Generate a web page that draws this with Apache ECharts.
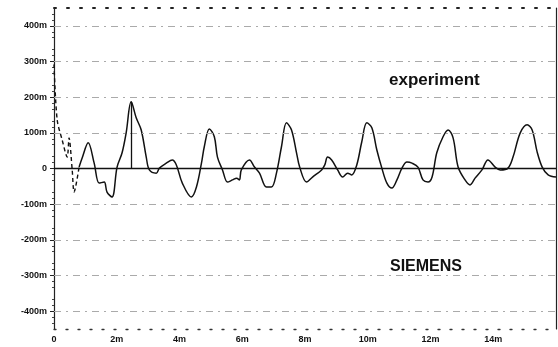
<!DOCTYPE html>
<html>
<head>
<meta charset="utf-8">
<script src="https://cdn.jsdelivr.net/npm/echarts@6/dist/echarts.min.js"></script>
<style>
  html, body { margin: 0; padding: 0; background: #fff; }
  #chart { width: 558px; height: 347px; }
</style>
</head>
<body>
<div id="chart"></div>
<script>
// time in ms, voltage in mV (labels use "m")
const startTimes = [0, 0.1, 0.26, 0.42, 0.48, 0.58, 0.64, 0.8];
const startValues = [292, 137, 80, 32, 86, -4, -66, 4];

const times = [
  0.8, 0.9, 1.09, 1.28, 1.44, 1.6, 1.69, 1.85, 2.01, 2.17, 2.3, 2.46, 2.62, 2.78, 2.94,
  3.04, 3.26, 3.36, 3.58, 3.77, 3.9, 4.09, 4.38, 4.54, 4.7, 4.79, 4.95, 5.11, 5.21,
  5.37, 5.53, 5.69, 5.82, 5.91, 5.97, 6.23, 6.39, 6.55, 6.77, 6.93, 7.09, 7.25, 7.41,
  7.57, 7.73, 7.83, 8.05, 8.24, 8.53, 8.63, 8.72, 8.85, 9.04, 9.2, 9.36, 9.49, 9.65,
  9.81, 9.97, 10.13, 10.29, 10.45, 10.61, 10.77, 10.93, 11.09, 11.25, 11.41, 11.6,
  11.76, 11.92, 12.05, 12.2, 12.4, 12.56, 12.72, 12.88, 13.1, 13.26, 13.42, 13.64,
  13.83, 14.06, 14.22, 14.47, 14.63, 14.86, 15.08, 15.24, 15.4, 15.56, 15.75, 16.0
];
const values = [
  4, 30, 72, 15, -41, -38, -66, -80, 4, 44, 100, 187, 142, 108, 32,
  -4, -13, 1, 15, 24, 10, -41, -80, -52, 15, 61, 111, 89, 32,
  -4, -38, -32, -27, -32, -4, 24, 4, -13, -52, -52, -13, 61, 128,
  108, 44, 4, -38, -24, -4, 10, 32, 24, -4, -24, -13, -18, 10,
  75, 128, 114, 52, 1, -41, -55, -32, 1, 18, 15, 4,
  -32, -38, -24, 44, 89, 108, 86, 4, -32, -46, -27, -4,
  24, 4, -4, 1, 32, 100, 123, 108, 46, 4, -18, -24
];

const cursorTime = 2.46;
const cursorValue = 187;

const yTicks = [-400, -300, -200, -100, 0, 100, 200, 300, 400];
const xTicks = [0, 2, 4, 6, 8, 10, 12, 14];

const chart = echarts.init(document.getElementById('chart'));

const labelStyle = {
  color: '#111',
  fontSize: 9,
  fontWeight: 'bold',
  fontFamily: 'Liberation Sans, Arial, sans-serif',
};

chart.setOption({
  backgroundColor: '#ffffff',
  animation: false,
  grid: { left: 54, right: 2, top: 8, bottom: 18 },
  xAxis: [
    {
      type: 'value',
      min: 0,
      max: 16,
      interval: 2,
      axisLine: { show: true, onZero: false, lineStyle: { color: '#333', type: [2, 10], width: 1.3 } },
      axisTick: { show: false },
      splitLine: { show: false },
      axisLabel: {
        ...labelStyle,
        margin: 6,
        customValues: xTicks,
        formatter: (v) => (v === 0 ? '0' : v + 'm'),
      },
    },
    {
      type: 'value',
      position: 'top',
      min: 0,
      max: 16,
      axisLine: { show: true, onZero: false, lineStyle: { color: '#222', type: [2, 11], width: 2 } },
      axisTick: { show: false },
      axisLabel: { show: false },
      splitLine: { show: false },
    },
  ],
  yAxis: [
    {
      type: 'value',
      min: -450,
      max: 450,
      interval: 50,
      axisLine: { show: true, onZero: false, lineStyle: { color: '#222', width: 1.2 } },
      axisTick: { show: true, customValues: yTicks, length: 4, inside: false, lineStyle: { color: '#222' } },
      minorTick: { show: true, splitNumber: 3, length: 2, lineStyle: { color: '#444' } },
      splitLine: { show: false },
      axisLabel: {
        ...labelStyle,
        margin: 7,
        customValues: yTicks,
        formatter: (v) => (v === 0 ? '0' : v + 'm'),
      },
    },
    {
      type: 'value',
      position: 'right',
      min: -450,
      max: 450,
      axisLine: { show: true, onZero: false, lineStyle: { color: '#222', width: 1.2 } },
      axisTick: { show: false },
      axisLabel: { show: false },
      splitLine: { show: false },
    },
  ],
  series: [
    {
      // grid lines and zero line
      type: 'line',
      data: [],
      silent: true,
      markLine: {
        symbol: 'none',
        silent: true,
        label: { show: false },
        data: yTicks.map((v) => ({
          yAxis: v,
          lineStyle: v === 0
            ? { color: '#111', type: 'solid', width: 1.3 }
            : { color: '#aaaaaa', type: [7, 5, 2, 5], width: 1 },
        })),
      },
    },
    {
      type: 'line',
      data: startTimes.map((t, i) => [t, startValues[i]]),
      showSymbol: false,
      smooth: 0.3,
      lineStyle: { color: '#111', width: 1.4, type: [4, 3] },
    },
    {
      type: 'line',
      data: times.map((t, i) => [t, values[i]]),
      showSymbol: false,
      smooth: 0.35,
      lineStyle: { color: '#111', width: 1.5 },
      markLine: {
        symbol: 'none',
        silent: true,
        label: { show: false },
        lineStyle: { color: '#111', width: 1.3, type: 'solid' },
        data: [[{ coord: [cursorTime, 0] }, { coord: [cursorTime, cursorValue] }]],
      },
    },
  ],
  graphic: [
    {
      type: 'text',
      left: 389,
      top: 72,
      style: {
        text: 'experiment',
        fill: '#111',
        font: 'bold 17px "Liberation Sans", Arial, sans-serif',
      },
    },
    {
      type: 'text',
      left: 390,
      top: 259,
      style: {
        text: 'SIEMENS',
        fill: '#111',
        font: 'bold 16px "Liberation Sans", Arial, sans-serif',
      },
    },
  ],
});
</script>
</body>
</html>
